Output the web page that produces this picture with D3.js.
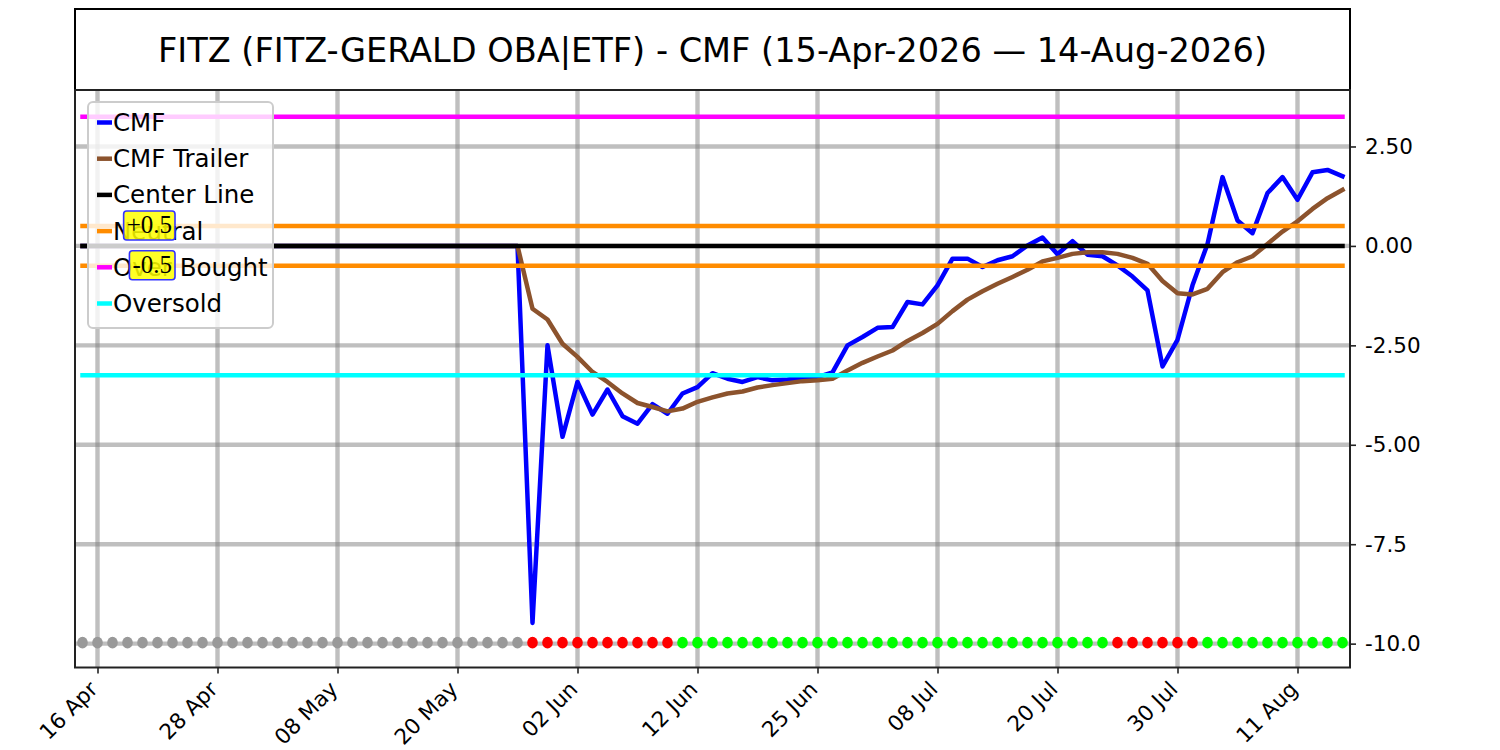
<!DOCTYPE html>
<html>
<head>
<meta charset="utf-8">
<script src="https://cdn.jsdelivr.net/npm/d3@7"></script>
<style>
  html, body { margin: 0; padding: 0; background: #ffffff; }
  svg { display: block; }
</style>
</head>
<body>
<svg id="chart" width="1500" height="750"></svg>
<script>
// ---------------- DATA ----------------
const titleText = "FITZ (FITZ-GERALD OBA|ETF) - CMF (15-Apr-2026 \u2014 14-Aug-2026)";

const dates = [
  "2026-04-15","2026-04-16","2026-04-17","2026-04-20","2026-04-21","2026-04-22","2026-04-23","2026-04-24","2026-04-27","2026-04-28","2026-04-29","2026-04-30",
  "2026-05-01","2026-05-04","2026-05-05","2026-05-06","2026-05-07","2026-05-08","2026-05-11","2026-05-12","2026-05-13","2026-05-14","2026-05-15","2026-05-18","2026-05-19","2026-05-20","2026-05-21","2026-05-22","2026-05-26","2026-05-27","2026-05-28","2026-05-29",
  "2026-06-01","2026-06-02","2026-06-03","2026-06-04","2026-06-05","2026-06-08","2026-06-09","2026-06-10","2026-06-11","2026-06-12","2026-06-15","2026-06-16","2026-06-17","2026-06-18","2026-06-22","2026-06-23","2026-06-24","2026-06-25","2026-06-26","2026-06-29","2026-06-30",
  "2026-07-01","2026-07-02","2026-07-06","2026-07-07","2026-07-08","2026-07-09","2026-07-10","2026-07-13","2026-07-14","2026-07-15","2026-07-16","2026-07-17","2026-07-20","2026-07-21","2026-07-22","2026-07-23","2026-07-24","2026-07-27","2026-07-28","2026-07-29","2026-07-30","2026-07-31",
  "2026-08-03","2026-08-04","2026-08-05","2026-08-06","2026-08-07","2026-08-10","2026-08-11","2026-08-12","2026-08-13","2026-08-14"
];

const cmf = [
  0,0,0,0,0,0,0,0,0,0, 0,0,0,0,0,0,0,0,0,0, 0,0,0,0,0,0,0,0,0,0,
  -9.48,-2.50,-4.80,-3.42,-4.24,-3.61,-4.28,-4.47,-3.98,-4.22,
  -3.71,-3.55,-3.20,-3.34,-3.42,-3.30,-3.38,-3.36,-3.32,-3.30,
  -3.18,-2.50,-2.29,-2.06,-2.04,-1.41,-1.47,-0.99,-0.32,-0.32,
  -0.53,-0.36,-0.26,0.01,0.21,-0.21,0.12,-0.22,-0.26,-0.49,
  -0.77,-1.12,-3.03,-2.36,-0.99,0.05,1.73,0.64,0.32,1.33,
  1.73,1.16,1.85,1.91,1.75
];

const cmfTrailer = [
  0,0,0,0,0,0,0,0,0,0, 0,0,0,0,0,0,0,0,0,0, 0,0,0,0,0,0,0,0,0,0,
  -1.58,-1.85,-2.46,-2.79,-3.17,-3.42,-3.71,-3.95,-4.05,-4.16,
  -4.09,-3.92,-3.81,-3.71,-3.66,-3.56,-3.50,-3.45,-3.40,-3.38,
  -3.34,-3.13,-2.94,-2.78,-2.63,-2.39,-2.19,-1.96,-1.64,-1.35,
  -1.14,-0.95,-0.78,-0.60,-0.39,-0.30,-0.20,-0.16,-0.16,-0.20,
  -0.30,-0.45,-0.88,-1.19,-1.22,-1.08,-0.66,-0.41,-0.26,0.05,
  0.36,0.62,0.93,1.20,1.41
];

// signal dots: 0 = none (gray), -1 = bearish (red), 1 = bullish (green)
const signal = [
  0,0,0,0,0,0,0,0,0,0, 0,0,0,0,0,0,0,0,0,0, 0,0,0,0,0,0,0,0,0,0,
  -1,-1,-1,-1,-1,-1,-1,-1,-1,-1,
  1,1,1,1,1,1,1,1,1,1, 1,1,1,1,1,1,1,1,1,1, 1,1,1,1,1,1,1,1,1,
  -1,-1,-1,-1,-1,-1,
  1,1,1,1,1,1,1,1,1,1
];
const signalLevel = -10;

const centerLevel = 0;
const neutralLevels = [0.5, -0.5];
const overBoughtLevel = 3.25;
const overSoldLevel = -3.25;

const xTickIndex = [1, 9, 17, 25, 33, 41, 49, 57, 65, 73, 81];
const yTicks = [2.5, 0, -2.5, -5, -7.5, -10];
const yTickLabels = ["2.50", "0.00", "-2.50", "-5.00", "-7.5", "-10.0"];

const legendItems = [
  {label: "CMF", color: "#0000ff"},
  {label: "CMF Trailer", color: "#8c532d"},
  {label: "Center Line", color: "#000000"},
  {label: "Neutral", color: "#ff8c00"},
  {label: "Over Bought", color: "#ff00ff"},
  {label: "Oversold", color: "#00ffff"}
];
const annotations = [
  {text: "+0.5", level: 0.5},
  {text: "-0.5", level: -0.5}
];

// ---------------- LAYOUT ----------------
const svg = d3.select("#chart");
const plot = {left: 75, right: 1350, top: 90, bottom: 667.5};
const n = dates.length;
const LW = 4.5;

const x = d3.scaleLinear().domain([-0.5, n - 0.5]).range([plot.left, plot.right]);
const y = d3.scaleLinear().domain([-10.6, 3.92]).range([plot.bottom, plot.top]);

const parse = d3.timeParse("%Y-%m-%d");
const fmt = d3.timeFormat("%d %b");

// title box
svg.append("rect")
  .attr("x", plot.left).attr("y", 9)
  .attr("width", plot.right - plot.left).attr("height", plot.top - 9)
  .attr("fill", "#fff").attr("stroke", "#000").attr("stroke-width", 2);
svg.append("text")
  .attr("x", (plot.left + plot.right) / 2).attr("y", 62)
  .attr("text-anchor", "middle")
  .attr("font-family", "DejaVu Sans").attr("font-size", 33.6)
  .attr("fill", "#000")
  .text(titleText);

const clipId = "plotclip";
svg.append("clipPath").attr("id", clipId).append("rect")
  .attr("x", plot.left).attr("y", plot.top)
  .attr("width", plot.right - plot.left).attr("height", plot.bottom - plot.top);

const g = svg.append("g").attr("clip-path", `url(#${clipId})`);

// grid
g.append("g").selectAll("line").data(xTickIndex).join("line")
  .attr("x1", d => x(d)).attr("x2", d => x(d))
  .attr("y1", plot.top).attr("y2", plot.bottom)
  .attr("stroke", "#808080").attr("stroke-opacity", 0.5).attr("stroke-width", 4.4);
g.append("g").selectAll("line").data(yTicks).join("line")
  .attr("x1", plot.left).attr("x2", plot.right)
  .attr("y1", d => y(d)).attr("y2", d => y(d))
  .attr("stroke", "#808080").attr("stroke-opacity", 0.5).attr("stroke-width", 4.4);

// series lines
const line = d3.line().x((d, i) => x(i)).y(d => y(d));
g.append("path").datum(cmf)
  .attr("d", line).attr("fill", "none")
  .attr("stroke", legendItems[0].color).attr("stroke-width", LW)
  .attr("stroke-linejoin", "round").attr("stroke-linecap", "square");
g.append("path").datum(cmfTrailer)
  .attr("d", line).attr("fill", "none")
  .attr("stroke", legendItems[1].color).attr("stroke-width", LW)
  .attr("stroke-linejoin", "round").attr("stroke-linecap", "square");

// level lines
function hLine(level, color) {
  g.append("path").datum(dates.map(() => level))
    .attr("d", line).attr("fill", "none")
    .attr("stroke", color).attr("stroke-width", LW)
    .attr("stroke-linecap", "square");
}
hLine(centerLevel, legendItems[2].color);
neutralLevels.forEach(l => hLine(l, legendItems[3].color));
hLine(overBoughtLevel, legendItems[4].color);
hLine(overSoldLevel, legendItems[5].color);

// signal dots
const dotColor = s => s === 1 ? "#00ff00" : (s === -1 ? "#ff0000" : "#999999");
g.append("g").selectAll("ellipse").data(signal).join("ellipse")
  .attr("cx", (d, i) => x(i)).attr("cy", y(signalLevel) - 1)
  .attr("rx", 5.3).attr("ry", 5.9)
  .attr("fill", d => dotColor(d));

// frame
svg.append("rect")
  .attr("x", plot.left).attr("y", plot.top)
  .attr("width", plot.right - plot.left).attr("height", plot.bottom - plot.top)
  .attr("fill", "none").attr("stroke", "#222").attr("stroke-width", 2);

// y axis (right)
const yAxis = d3.axisRight(y).tickValues(yTicks)
  .tickFormat((d, i) => yTickLabels[i]).tickSize(6).tickPadding(9);
const yg = svg.append("g").attr("transform", `translate(${plot.right},0)`).call(yAxis);
yg.select(".domain").remove();
yg.selectAll(".tick line").attr("stroke", "#222").attr("stroke-width", 1.6);
yg.selectAll(".tick text").attr("font-family", "DejaVu Sans").attr("font-size", 21.5).attr("fill", "#000");

// x axis (bottom)
const xAxis = d3.axisBottom(x).tickValues(xTickIndex)
  .tickFormat(i => fmt(parse(dates[i]))).tickSize(6);
const xg = svg.append("g").attr("transform", `translate(0,${plot.bottom})`).call(xAxis);
xg.select(".domain").remove();
xg.selectAll(".tick line").attr("stroke", "#222").attr("stroke-width", 1.6);
xg.selectAll(".tick text")
  .attr("font-family", "DejaVu Sans").attr("font-size", 21.5).attr("fill", "#000")
  .attr("text-anchor", "end")
  .attr("x", 0).attr("y", 0).attr("dy", 0)
  .attr("transform", "translate(1,23) rotate(-45)");

// legend
const lg = svg.append("g");
lg.append("rect")
  .attr("x", 88).attr("y", 102).attr("width", 185).attr("height", 226)
  .attr("rx", 5).attr("fill", "#fff").attr("fill-opacity", 0.8)
  .attr("stroke", "#cccccc").attr("stroke-width", 2);
legendItems.forEach((it, i) => {
  const by = 131 + i * 36.2;
  lg.append("line")
    .attr("x1", 97).attr("x2", 112).attr("y1", by - 8.5).attr("y2", by - 8.5)
    .attr("stroke", it.color).attr("stroke-width", LW);
  lg.append("text")
    .attr("x", 113).attr("y", by)
    .attr("font-family", "DejaVu Sans").attr("font-size", 24.5).attr("fill", "#000")
    .text(it.label);
});

// annotations
annotations.forEach(a => {
  const ly = y(a.level);
  const tg = svg.append("g");
  const t = tg.append("text")
    .attr("x", 172).attr("y", ly + 7)
    .attr("text-anchor", "end")
    .attr("font-family", "Liberation Serif").attr("font-size", 25).attr("fill", "#000")
    .text(a.text);
  const bb = t.node().getBBox();
  tg.insert("rect", "text")
    .attr("x", bb.x - 3).attr("y", ly - 15)
    .attr("width", bb.width + 6).attr("height", 29)
    .attr("rx", 3)
    .attr("fill", "#ffff00").attr("fill-opacity", 0.85)
    .attr("stroke", "#3333ff").attr("stroke-width", 1.6);
});
</script>
</body>
</html>
